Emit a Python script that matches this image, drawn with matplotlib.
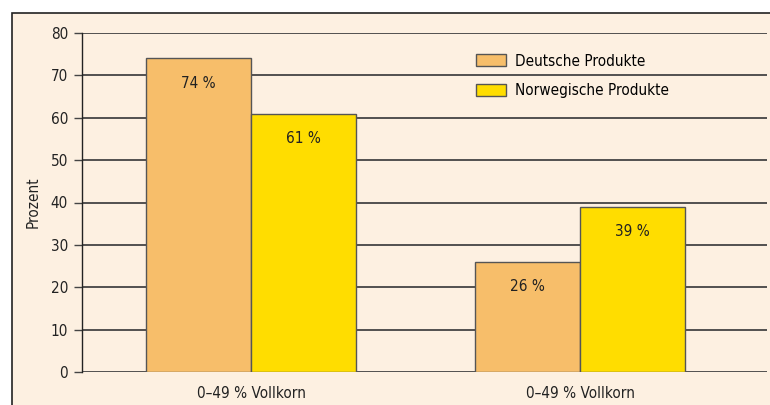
import matplotlib
matplotlib.use("Agg")
import matplotlib.pyplot as plt
from matplotlib.patches import Rectangle
import numpy as np

plt.rcParams['font.family'] = ['DejaVu Sans']
plt.rcParams['font.stretch'] = 'condensed'

# data
categories = ["0–49 % Vollkorn", "0–49 % Vollkorn"]
series_names = ["Deutsche Produkte", "Norwegische Produkte"]
deutsche = [74, 26]
norwegische = [61, 39]
y_ticks = [0, 10, 20, 30, 40, 50, 60, 70, 80]

bg = "#fdf0e1"
orange = "#f7be6a"
yellow = "#ffdd00"
grid_col = "#444444"
edge_col = "#555555"

fig = plt.figure(figsize=(7.7, 4.05), dpi=100)
fig.patch.set_facecolor("white")

# beige panel behind the chart
panel = Rectangle((12 / 770, -0.05), 1.0, 1 - 13 / 405 + 0.05, transform=fig.transFigure,
                  facecolor=bg, edgecolor="#222222", linewidth=1.2, zorder=0)
fig.add_artist(panel)

ax = fig.add_axes([82 / 770, 1 - 372 / 405, 685 / 770, 339 / 405])
ax.patch.set_alpha(0)

x = np.arange(len(categories))
w = 0.319
b1 = ax.bar(x - w / 2, deutsche, w, color=orange, edgecolor=edge_col, linewidth=1.0,
            label=series_names[0], zorder=3)
b2 = ax.bar(x + w / 2, norwegische, w, color=yellow, edgecolor=edge_col, linewidth=1.0,
            label=series_names[1], zorder=3)

for bars, vals in [(b1, deutsche), (b2, norwegische)]:
    for rect, v in zip(bars, vals):
        ax.text(rect.get_x() + rect.get_width() / 2, v - 5.8, f"{v} %",
                ha="center", va="center", fontsize=11, color="#222222", zorder=4)

ax.set_ylim(0, 80)
ax.set_xlim(-0.514, 1.568)
ax.set_yticks(y_ticks)
ax.yaxis.grid(True, color=grid_col, linewidth=1.3, zorder=1)
ax.set_axisbelow(True)
ax.tick_params(axis="y", length=6, width=1.0, color=grid_col, labelsize=11, pad=4,
               labelcolor="#222222")
ax.set_xticks(x)
ax.set_xticklabels(categories)
ax.tick_params(axis="x", length=0, labelsize=11, pad=10, labelcolor="#222222")
for s in ["top", "right", "bottom"]:
    ax.spines[s].set_visible(False)
ax.spines["left"].set_color("#222222")
ax.spines["left"].set_linewidth(1.0)
ax.set_ylabel("Prozent", fontsize=11, color="#222222", labelpad=7)

leg = ax.legend(loc="upper left", bbox_to_anchor=(0.575, 0.939), frameon=False,
                fontsize=11, handlelength=1.96, handleheight=0.85, handletextpad=0.59,
                labelspacing=0.95, borderaxespad=0, borderpad=0)

fig.savefig("out.png", dpi=100, facecolor=fig.get_facecolor())
